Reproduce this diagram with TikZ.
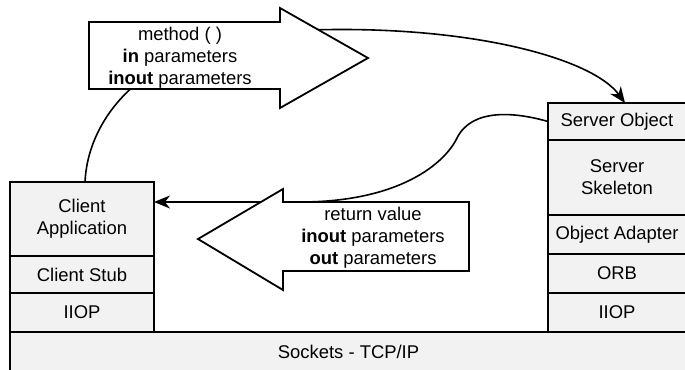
\documentclass[tikz,border=0pt]{standalone}
\usepackage{fontspec}
\setmainfont{Liberation Sans}
\usetikzlibrary{arrows.meta}
\definecolor{boxgray}{HTML}{F2F2F2}
\pgfdeclarelayer{bg}
\pgfsetlayers{bg,main}
\begin{document}
\begin{tikzpicture}[x=1bp,y=-1bp,
  layer/.style={draw=black, line width=1.6bp, fill=boxgray, inner sep=0pt, outer sep=0pt, align=center, font=\fontsize{18.5}{22}\selectfont},
  bigarrow/.style={draw=black, line width=1.8bp, fill=white, line join=miter},
  conn/.style={draw=black, line width=1.6bp, -{Stealth[length=16bp,width=13bp,inset=5bp]}},
  plain/.style={draw=black, line width=1.6bp},
  lbl/.style={align=center, font=\fontsize{18.5}{22}\selectfont, inner sep=0pt}]
\useasboundingbox (0,0) rectangle (685,369);

% client stack
\node[layer, minimum width=144bp, minimum height=74bp] (capp) at (82,219) {Client\\Application};
\node[layer, minimum width=144bp, minimum height=37bp] (cstub) at (82,274.5) {Client Stub};
\node[layer, minimum width=144bp, minimum height=39bp] (ciiop) at (82,312.5) {IIOP};

% server stack
\node[layer, minimum width=138bp, minimum height=37bp] (sobj) at (617,121.5) {Server Object};
\node[layer, minimum width=138bp, minimum height=75bp] (sskel) at (617,177.5) {Server\\Skeleton};
\node[layer, minimum width=138bp, minimum height=39bp] (soa) at (617,234.5) {Object Adapter};
\node[layer, minimum width=138bp, minimum height=39bp] (sorb) at (617,273.5) {ORB};
\node[layer, minimum width=138bp, minimum height=39bp] (siiop) at (617,312.5) {IIOP};

% sockets
\node[layer, minimum width=677bp, minimum height=39bp] (sock) at (348.5,351.5) {Sockets - TCP/IP};

% big arrows
\draw[bigarrow] (89,22) -- (280,22) -- (280,8) -- (368,58) -- (280,108) -- (280,89) -- (89,89) -- cycle;
\node[lbl] (call) at (180,58) {method ( )\\\textbf{in} parameters\\\textbf{inout} parameters};

\draw[bigarrow] (469,202) -- (283,202) -- (283,189) -- (198,239) -- (283,290) -- (283,271) -- (469,271) -- cycle;
\node[lbl] (ret) at (373,238) {return value\\\textbf{inout} parameters\\\textbf{out} parameters};

% connectors
\coordinate (callsrc) at (310,30);
\coordinate (callfoot) at (135,85);
\coordinate (retin) at (300,202);
\begin{pgfonlayer}{bg}
\draw[conn] (callsrc) .. controls (470,25) and (592,58) .. ([xshift=8bp]sobj.north);
\draw[plain] ([xshift=3bp]capp.north) .. controls (87,140) and (110,106) .. (callfoot);
\draw[conn] (sobj.west) .. controls (515,112) and (472,108) .. (457,138)
  .. controls (445,163) and (400,202) .. (retin) -- ([yshift=17bp]capp.east);
\end{pgfonlayer}
\end{tikzpicture}
\end{document}
